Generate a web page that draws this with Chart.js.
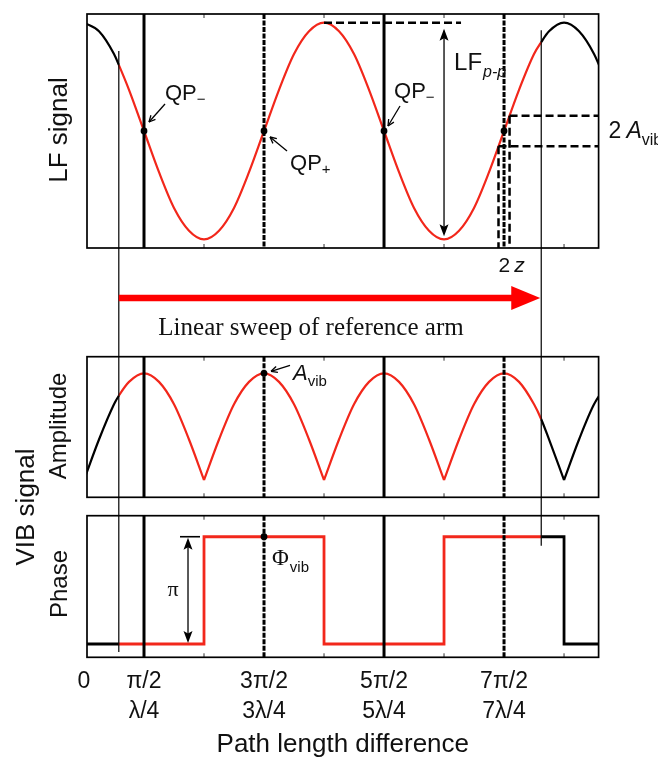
<!DOCTYPE html>
<html><head><meta charset="utf-8">
<script src="https://cdn.jsdelivr.net/npm/chart.js@4.4.1/dist/chart.umd.min.js"></script>
<style>
html,body{margin:0;padding:0;background:#fff;}
#wrap{position:relative;width:658px;height:760px;overflow:hidden;background:#fff;}
canvas{position:absolute;left:0;}
</style></head><body>
<div id="wrap">
<canvas id="cLF" width="658" height="340" style="top:0px"></canvas>
<canvas id="cAmp" width="658" height="160" style="top:340px"></canvas>
<canvas id="cPh" width="658" height="260" style="top:500px"></canvas>
<canvas id="ov" width="658" height="760" style="top:0px"></canvas>
</div>
<script>
// ---- data (x in units of π of the phase / path length difference) ----
const sampleX      = [0,0.125,0.25,0.29,0.375,0.5,0.625,0.75,0.875,1,1.125,1.25,1.375,1.5,1.625,1.75,1.875,2,2.125,2.25,2.375,2.5,2.625,2.75,2.875,3,3.125,3.25,3.375,3.5,3.625,3.75,3.81,3.875,4,4.125,4.25,4.375];
const lfSignal     = [1,0.92,0.71,0.61,0.38,0,-0.38,-0.71,-0.92,-1,-0.92,-0.71,-0.38,0,0.38,0.71,0.92,1,0.92,0.71,0.38,0,-0.38,-0.71,-0.92,-1,-0.92,-0.71,-0.38,0,0.38,0.71,0.82,0.92,1,0.92,0.71,0.38];
const vibAmplitude = [0,0.38,0.71,0.79,0.92,1,0.92,0.71,0.38,0,0.38,0.71,0.92,1,0.92,0.71,0.38,0,0.38,0.71,0.92,1,0.92,0.71,0.38,0,0.38,0.71,0.92,1,0.92,0.71,0.57,0.38,0,0.38,0.71,0.92];
const phaseX       = [0,0.29,1,2,3,3.81,4,4.4];
const vibPhase     = [0,0,1,0,1,1,0,0];          // in units of π
const sweepRange   = [0.29,3.81];                // linear sweep of reference arm
const qpX          = [0.5,1.5,2.5,3.5];          // quadrature points
const qpY          = [0,0,0,0];
const solidLines   = [0.5,2.5];
const dottedLines  = [1.5,3.5];
const minorTicks   = [1,2,3,4];
const tickValues   = [0,0.5,1.5,2.5,3.5];
const tickPhase    = ['0','π/2','3π/2','5π/2','7π/2'];
const tickLength   = ['','λ/4','3λ/4','5λ/4','7λ/4'];
const aVib         = 0.14;                       // half of 2·A_vib on the LF scale
const avibPoint    = [1.5,1];
const phiPoint     = [1.5,1];

const RED='#f2271b', BLACK='#000', TXT='#111';
const SANS="'Liberation Sans', Arial, Helvetica, sans-serif";
const SERIF="'Liberation Serif', 'Times New Roman', serif";
Chart.defaults.font.family = SANS;

const inSweep = c => c.p0.parsed.x >= sweepRange[0]-1e-6 && c.p1.parsed.x <= sweepRange[1]+1e-6;
const segColor = {borderColor: c => inSweep(c) ? RED : BLACK};
const X_MIN = 0.025, X_MAX = 4.288;

const deco = {
  id:'deco',
  afterDatasetsDraw(chart, args, opts){
    const {ctx, chartArea:a, scales:{x,y}} = chart;
    ctx.save();
    ctx.strokeStyle='#333'; ctx.lineWidth=1;
    minorTicks.forEach(v=>{const p=x.getPixelForValue(v);
      ctx.beginPath(); ctx.moveTo(p,a.top); ctx.lineTo(p,a.top+4); ctx.moveTo(p,a.bottom); ctx.lineTo(p,a.bottom-4); ctx.stroke();});
    ctx.strokeStyle=BLACK; ctx.lineWidth=3;
    solidLines.forEach(v=>{const p=x.getPixelForValue(v); ctx.beginPath(); ctx.moveTo(p,a.top); ctx.lineTo(p,a.bottom); ctx.stroke();});
    ctx.setLineDash([5,1.5]);
    dottedLines.forEach(v=>{const p=x.getPixelForValue(v); ctx.beginPath(); ctx.moveTo(p,a.top); ctx.lineTo(p,a.bottom); ctx.stroke();});
    ctx.setLineDash([]);
    ctx.fillStyle=BLACK;
    (opts.dotsX||[]).forEach((v,i)=>{ctx.beginPath(); ctx.arc(x.getPixelForValue(v), y.getPixelForValue(opts.dotsY[i]), 3.4, 0, 2*Math.PI); ctx.fill();});
    ctx.lineWidth=1.7; ctx.strokeStyle=BLACK;
    ctx.strokeRect(a.left,a.top,a.right-a.left,a.bottom-a.top);
    ctx.restore();
  }
};
const baseOpts = (pad, ymin, ymax, dots) => ({
  responsive:false, animation:false, events:[],
  layout:{padding:pad},
  scales:{x:{type:'linear',min:X_MIN,max:X_MAX,display:false}, y:{type:'linear',min:ymin,max:ymax,display:false}},
  plugins:{legend:{display:false}, tooltip:{enabled:false}, deco:dots}
});

// ---- LF signal ----
const lfChart = new Chart(document.getElementById('cLF'), {
  type:'line',
  data:{datasets:[{data: sampleX.map((v,i)=>({x:v,y:lfSignal[i]})), borderColor:BLACK, borderWidth:2.2,
    pointRadius:0, cubicInterpolationMode:'monotone', segment:segColor}]},
  options: baseOpts({left:87,right:59.4,top:14,bottom:92}, -1.08, 1.08, {dotsX:qpX, dotsY:qpY}),
  plugins:[deco]
});

// ---- VIB amplitude (lobes between zeros) ----
function splitLobes(xs, ys){
  const lobes=[]; let cur=[];
  xs.forEach((xv,i)=>{ cur.push({x:xv,y:ys[i]}); if(ys[i]===0 && cur.length>1){ lobes.push(cur); cur=[{x:xv,y:0}]; } });
  if(cur.length>1) lobes.push(cur);
  return lobes;
}
const ampChart = new Chart(document.getElementById('cAmp'), {
  type:'line',
  data:{datasets: splitLobes(sampleX, vibAmplitude).map(l=>({data:l, borderColor:BLACK, borderWidth:2.2, pointRadius:0,
    cubicInterpolationMode:'monotone', segment:segColor}))},
  options: baseOpts({left:87,right:59.4,top:16.7,bottom:2.7}, -0.162, 1.156, {dotsX:[avibPoint[0]], dotsY:[avibPoint[1]]}),
  plugins:[deco]
});

// ---- VIB phase ----
const phOpts = baseOpts({left:87,right:59.4,top:15.7,bottom:0}, -0.124, 1.196, {dotsX:[phiPoint[0]], dotsY:[phiPoint[1]]});
phOpts.scales.x = {
  type:'linear', min:X_MIN, max:X_MAX, display:true, position:'bottom',
  grid:{display:false, drawTicks:false}, border:{display:false},
  afterBuildTicks: s => { s.ticks = tickValues.map(v=>({value:v})); },
  afterFit: s => { s.height = 102.7; },
  ticks:{autoSkip:false, maxRotation:0, minRotation:0, padding:9.7, color:TXT,
    font:{family:SANS, size:23, lineHeight:1.3},
    callback:(v,i)=> tickLength[i] ? [tickPhase[i], tickLength[i]] : tickPhase[i]},
  title:{display:true, text:'Path length difference', color:TXT, font:{family:SANS, size:26, lineHeight:1.2}, padding:{top:0,bottom:0}}
};
const phChart = new Chart(document.getElementById('cPh'), {
  type:'line',
  data:{datasets:[{data: phaseX.map((v,i)=>({x:v,y:vibPhase[i]})), stepped:'before', borderColor:BLACK, borderWidth:2.8,
    pointRadius:0, segment:segColor}]},
  options: phOpts,
  plugins:[deco]
});

// ---- overlay annotations (positions from the charts' scales) ----
const ov = document.getElementById('ov').getContext('2d');
const X  = v => lfChart.scales.x.getPixelForValue(v);
const LY = v => 0   + lfChart.scales.y.getPixelForValue(v);
const AY = v => 340 + ampChart.scales.y.getPixelForValue(v);
const PY = v => 500 + phChart.scales.y.getPixelForValue(v);
const lfA = lfChart.chartArea;

function txt(s, x, y, size, o={}){
  ov.font = (o.italic?'italic ':'') + size + 'px ' + (o.serif?SERIF:SANS);
  ov.textAlign = o.align || 'left'; ov.textBaseline='alphabetic'; ov.fillStyle=TXT;
  ov.fillText(s, x, y); return ov.measureText(s).width;
}
function line(x1,y1,x2,y2,w,col,dash){ ov.save(); ov.strokeStyle=col||BLACK; ov.lineWidth=w; ov.setLineDash(dash||[]);
  ov.beginPath(); ov.moveTo(x1,y1); ov.lineTo(x2,y2); ov.stroke(); ov.restore(); }
function openArrow(x1,y1,x2,y2){
  line(x1,y1,x2,y2,1.3);
  const ang=Math.atan2(y2-y1,x2-x1), L=7;
  [0.45,-0.45].forEach(d=>line(x2,y2,x2-L*Math.cos(ang+d),y2-L*Math.sin(ang+d),1.3));
}
function filledHead(x,y,ang,len,hw,col){
  ov.save(); ov.fillStyle=col||BLACK; ov.translate(x,y); ov.rotate(ang);
  ov.beginPath(); ov.moveTo(0,0); ov.lineTo(-len,hw); ov.lineTo(-len*0.8,0); ov.lineTo(-len,-hw); ov.closePath(); ov.fill(); ov.restore();
}
function rotText(s, x, y, size){
  ov.save(); ov.translate(x,y); ov.rotate(-Math.PI/2);
  ov.font = size+'px '+SANS; ov.textAlign='center'; ov.textBaseline='alphabetic'; ov.fillStyle=TXT;
  ov.fillText(s,0,0); ov.restore();
}

// axis titles
rotText('LF signal', 67, 130, 26);
rotText('Amplitude', 66, 426, 24);
rotText('Phase', 67, 584, 24);
rotText('VIB signal', 34, 507, 26);

// sweep boundary lines
const i0 = sampleX.indexOf(sweepRange[0]), i1 = sampleX.indexOf(sweepRange[1]);
const p0 = vibPhase[phaseX.indexOf(sweepRange[0])], p1 = vibPhase[phaseX.indexOf(sweepRange[1])];
line(X(sweepRange[0]), LY(lfSignal[i0])-14, X(sweepRange[0]), PY(p0)+8, 1.2);
line(X(sweepRange[1]), LY(lfSignal[i1])-12, X(sweepRange[1]), PY(p1)+9, 1.2);

// sweep arrow + caption
const ay = 298, tip = X(sweepRange[1]) - 1;
line(X(sweepRange[0]), ay, tip-26, ay, 6.5, '#ff0000');
ov.fillStyle='#ff0000'; ov.beginPath(); ov.moveTo(tip,ay); ov.lineTo(tip-29,ay-12); ov.lineTo(tip-29,ay+12); ov.closePath(); ov.fill();
txt('Linear sweep of reference arm', 311, 335, 25, {serif:true, align:'center'});

// QP labels
const qpLabels = [
  {i:0, sub:'−', lx:21, ly:-31, a:[21,-27,5,-9]},
  {i:1, sub:'+', lx:26, ly:39,  a:[23,20,6,6]},
  {i:2, sub:'−', lx:10, ly:-33, a:[16,-25,4,-5]}
];
qpLabels.forEach(q=>{
  const dx = X(qpX[q.i]), dy = LY(qpY[q.i]);
  const w = txt('QP', dx+q.lx, dy+q.ly, 22);
  txt(q.sub, dx+q.lx+w, dy+q.ly+4, 15);
  openArrow(dx+q.a[0], dy+q.a[1], dx+q.a[2], dy+q.a[3]);
});

// LF peak-to-peak
const xpp = X(3);
line(X(2), LY(1), xpp+17, LY(1), 2.5, BLACK, [8,4]);
line(xpp, LY(1)+8, xpp, LY(-1)-6, 1.3);
filledHead(xpp, LY(1)+6, -Math.PI/2, 12, 4.5);
filledHead(xpp, LY(-1)-3, Math.PI/2, 12, 4.5);
{ const w = txt('LF', xpp+10, 70, 24); txt('p-p', xpp+10+w+1, 77, 16, {italic:true}); }

// 2·A_vib box
{
  const k = sampleX.indexOf(3.375), sl = (lfSignal[k+2]-lfSignal[k])/(sampleX[k+2]-sampleX[k]);
  const xUp = X(3.5 + aVib/sl), xLo = X(3.5 - aVib/sl);
  const yUp = LY(aVib), yLo = LY(-aVib);
  const dash=[8,4];
  line(xUp, yUp, lfA.right, yUp, 2.5, BLACK, dash);
  line(xLo, yLo, lfA.right, yLo, 2.5, BLACK, dash);
  line(xUp, yUp, xUp, lfA.bottom, 2.5, BLACK, dash);
  line(xLo, yLo, xLo, lfA.bottom, 2.5, BLACK, dash);
  let w = txt('2', lfA.right+10, 138, 23);
  w += txt('A', lfA.right+10+w+5, 138, 23, {italic:true});
  txt('vib', lfA.right+10+w+5, 145, 16);
  const w2 = txt('2', xLo, 272, 21);
  txt('z', xLo+w2+4, 272, 21, {italic:true});
}

// A_vib
{
  const dx = X(avibPoint[0]), dy = AY(avibPoint[1]);
  openArrow(dx+26, dy-8, dx+7, dy-2);
  const w = txt('A', dx+29, dy+7, 22, {italic:true});
  txt('vib', dx+29+w, dy+13, 15);
}

// Phase: π jump and Φ_vib
{
  const xa = X(1) - 16, yt = PY(1), yb = PY(0);
  line(xa-8, yt, xa+12, yt, 1.6);
  line(xa, yt+8, xa, yb-8, 1.3);
  filledHead(xa, yt+1, -Math.PI/2, 12, 4.5);
  filledHead(xa, yb-1, Math.PI/2, 12, 4.5);
  txt('π', xa-15, yb-48, 22, {serif:true, align:'center'});
  const dx = X(phiPoint[0]), dy = PY(phiPoint[1]);
  const w = txt('Φ', dx+8, dy+28, 23, {serif:true});
  txt('vib', dx+8+w+1, dy+35, 15);
}
</script>
</body></html>
